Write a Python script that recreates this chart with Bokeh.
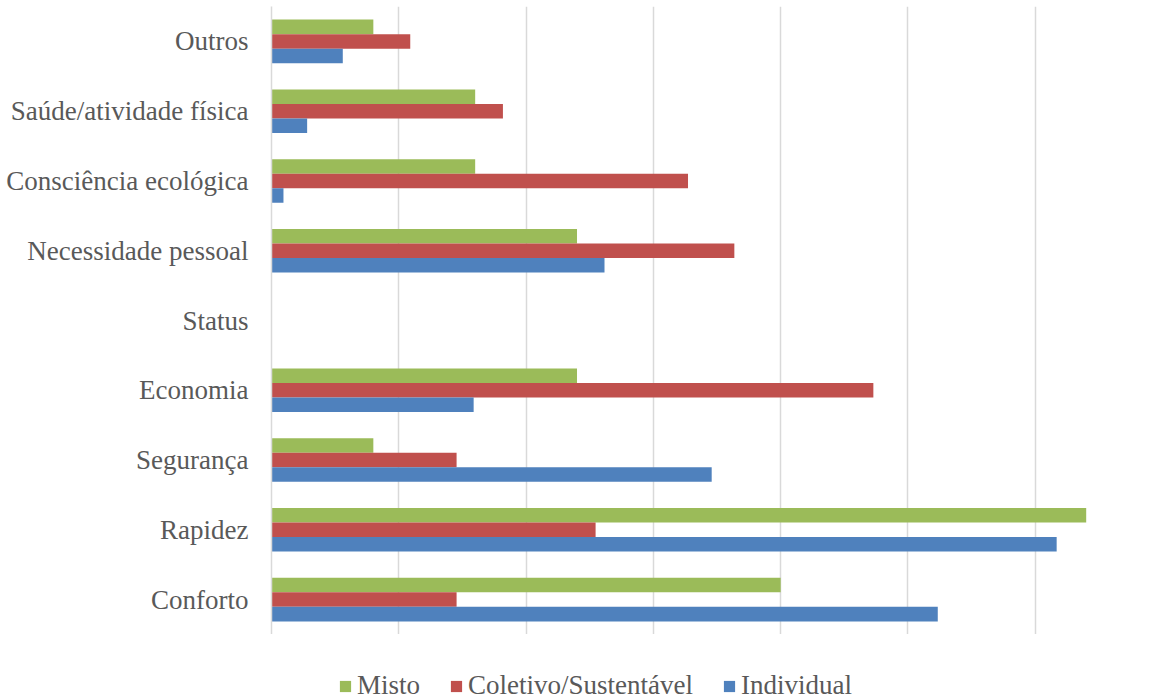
from bokeh.plotting import figure
from bokeh.layouts import column
from bokeh.models import ColumnDataSource, FactorRange, Range1d, FixedTicker, Legend
from bokeh.transform import dodge
from bokeh.embed import file_html
from bokeh.resources import INLINE

# Motivos de escolha do modo de transporte (% de respondentes por grupo), de baixo para cima
categorias = ["Conforto", "Rapidez", "Segurança", "Economia", "Status",
              "Necessidade pessoal", "Consciência ecológica",
              "Saúde/atividade física", "Outros"]
misto = [20.0, 32.0, 4.0, 12.0, 0.0, 12.0, 8.0, 8.0, 4.0]
coletivo = [7.27, 12.73, 7.27, 23.64, 0.0, 18.18, 16.36, 9.09, 5.45]
individual = [26.17, 30.84, 17.29, 7.94, 0.0, 13.08, 0.47, 1.40, 2.80]
grupos = ["Misto", "Coletivo/Sustentável", "Individual"]
cores = ["#9BBB59", "#C0504D", "#4F81BD"]
grade_x = [5, 10, 15, 20, 25, 30]

FONTE = "Liberation Serif"
CINZA = "#595959"
TAM = "27px"
MARGEM_ESQ = 271

src = ColumnDataSource(dict(cat=categorias, misto=misto,
                            coletivo=coletivo, individual=individual))

p = figure(width=1158, height=634, output_backend="svg", toolbar_location=None,
           y_range=FactorRange(*categorias, range_padding=0),
           x_range=Range1d(0, 34.84), x_axis_location=None,
           min_border_left=MARGEM_ESQ, min_border_right=0, min_border_top=6,
           min_border_bottom=0)
p.outline_line_color = None

bh = 0.208
for col, off, cor in zip(["misto", "coletivo", "individual"], [bh, 0, -bh], cores):
    p.hbar(y=dodge("cat", off, range=p.y_range), right=col, left=0, height=bh,
           source=src, fill_color=cor, line_color=None)

p.xgrid.ticker = FixedTicker(ticks=grade_x)
p.xgrid.grid_line_color = "#D9D9D9"
p.xgrid.grid_line_width = 1.5
p.ygrid.grid_line_color = None

ax = p.yaxis[0]
ax.axis_line_color = "#D9D9D9"
ax.axis_line_width = 1.5
ax.major_tick_line_color = None
ax.minor_tick_line_color = None
ax.major_tick_out = 0
ax.major_tick_in = 0
ax.major_label_standoff = 23
ax.major_label_text_font = FONTE
ax.major_label_text_font_size = TAM
ax.major_label_text_color = CINZA

# Faixa inferior com a legenda (os marcadores ficam fora da área visível)
pl = figure(width=1158, height=65, output_backend="svg", toolbar_location=None,
            x_range=Range1d(0, 1), y_range=Range1d(0, 1),
            x_axis_location=None, y_axis_location=None,
            min_border_left=MARGEM_ESQ, min_border_right=0, min_border_top=0,
            min_border_bottom=0)
pl.outline_line_color = None
pl.grid.visible = False
fora = ColumnDataSource(dict(y=[5.0], left=[5.0], right=[6.0]))
itens = []
for nome, cor in zip(grupos, cores):
    r = pl.hbar(y="y", right="right", left="left", height=0.1, source=fora,
                fill_color=cor, line_color=None)
    itens.append((nome, [r]))

leg = Legend(items=itens, orientation="horizontal", location=(338 - MARGEM_ESQ, -2),
             glyph_width=14, glyph_height=14, label_standoff=5, spacing=29,
             padding=0, margin=0, border_line_color=None, background_fill_alpha=0,
             label_text_font=FONTE, label_text_font_size=TAM,
             label_text_color=CINZA)
pl.add_layout(leg, "center")

open("out.html", "w").write(file_html(column(p, pl, spacing=0), INLINE))
